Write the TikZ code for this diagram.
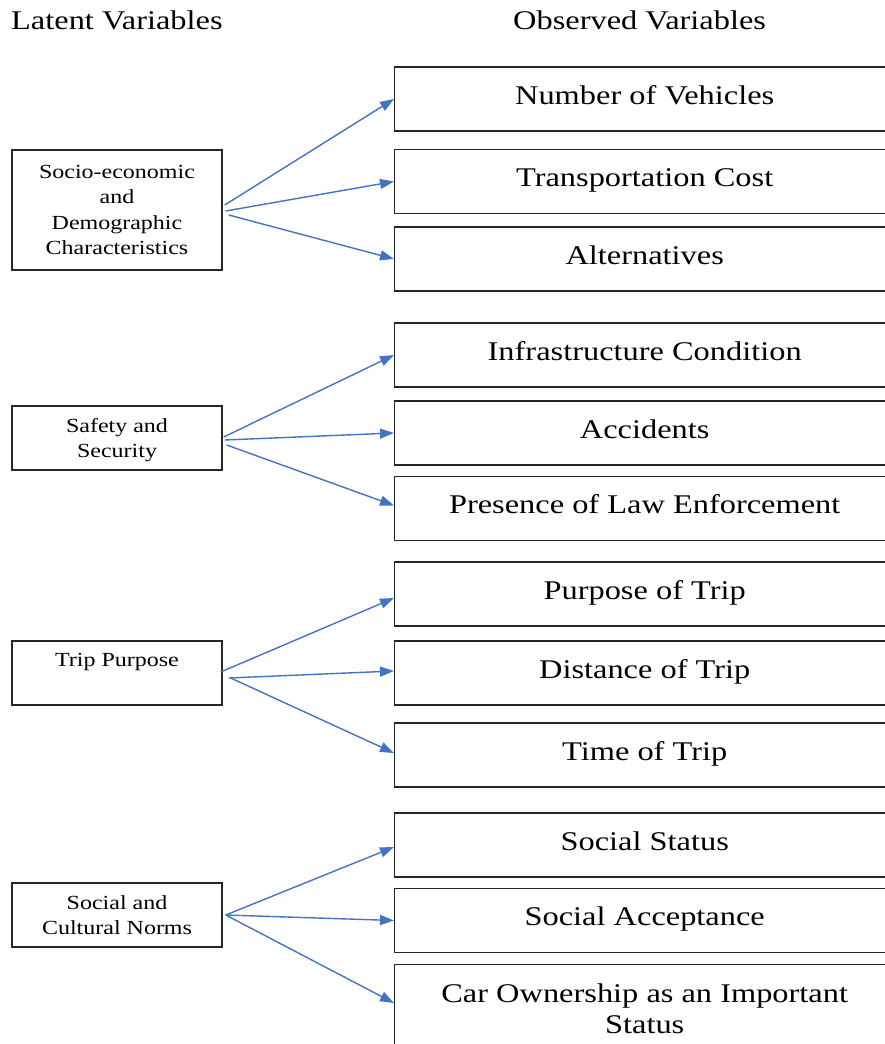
\documentclass[tikz,border=0pt]{standalone}
\usepackage{fontspec}
\setmainfont[FakeStretch=1.2]{Liberation Serif}
\usetikzlibrary{arrows.meta,calc}
\definecolor{linkblue}{HTML}{4472C4}
\definecolor{boxline}{HTML}{262626}
\begin{document}
\begin{tikzpicture}[x=1pt,y=-1pt,
  header/.style={anchor=base west,inner sep=0pt,font=\rmfamily\fontsize{27}{31}\selectfont},
  latent/.style={draw=boxline,line width=1.4pt,minimum width=210pt,inner sep=0pt,
    align=center,font=\rmfamily\fontsize{20}{25.6}\selectfont},
  observed/.style={draw=boxline,line width=1.4pt,minimum width=500pt,minimum height=64pt,
    inner sep=0pt,anchor=west,align=center,text height=19pt,text depth=9pt,
    font=\rmfamily\fontsize{27}{31}\selectfont},
  link/.style={draw=linkblue,line width=1.4pt,-{Triangle[length=14pt,width=10pt]}}]
\useasboundingbox (0,0) rectangle (885,1044);
\clip (0,0) rectangle (885,1044);

% column headings
\node[header] (hlat) at (11,29) {Latent Variables};
\node[header] (hobs) at (513,29) {Observed Variables};

% latent variables
\node[latent,minimum height=120pt] (L1) at (117,210)
  {Socio-economic\\and\\Demographic\\Characteristics};
\node[latent,minimum height=64pt,text depth=0pt] (L2) at (117,438) {Safety and\\Security};
\node[latent,minimum height=64pt] (L3) at (117,673) {Trip Purpose\\\mbox{}};
\node[latent,minimum height=64pt] (L4) at (117,915) {Social and\\Cultural Norms};

% observed variables
\node[observed] (R1)  at (394,99)    {Number of Vehicles};
\node[observed] (R2)  at (394,181.5) {Transportation Cost};
\node[observed] (R3)  at (394,259)   {Alternatives};
\node[observed] (R4)  at (394,355)   {Infrastructure Condition};
\node[observed] (R5)  at (394,433)   {Accidents};
\node[observed] (R6)  at (394,508.5) {Presence of Law Enforcement};
\node[observed] (R7)  at (394,594)   {Purpose of Trip};
\node[observed] (R8)  at (394,673)   {Distance of Trip};
\node[observed] (R9)  at (394,755)   {Time of Trip};
\node[observed] (R10) at (394,845)   {Social Status};
\node[observed] (R11) at (394,920.5) {Social Acceptance};
\node[draw=boxline,line width=1.4pt,minimum width=500pt,inner xsep=0pt,inner ysep=19.5pt,
  anchor=north west,align=center,font=\rmfamily\fontsize{27}{31}\selectfont]
  (R12) at (394,964) {Car Ownership as an Important\\Status};

% connectors
\draw[link] ($(L1.east)+(2,-5)$) -- (R1.west);
\draw[link] ($(L1.east)+(3,1)$)  -- (R2.west);
\draw[link] ($(L1.east)+(6,5)$)  -- (R3.west);

\draw[link] ($(L2.east)+(1,-1)$) -- (R4.west);
\draw[link] ($(L2.east)+(2,2)$)  -- (R5.west);
\draw[link] ($(L2.east)+(4,7)$)  -- ($(R6.west)+(0,-3)$);

\draw[link] ($(L3.east)+(-2,-1)$) -- ($(R7.west)+(0,4)$);
\draw[link] ($(L3.east)+(6,5)$)   -- ($(R8.west)+(0,-2)$);
\draw[link] ($(L3.east)+(8,5)$)   -- ($(R9.west)+(0,-2)$);

\draw[link] ($(L4.east)+(3,0)$) -- ($(R10.west)+(0,2)$);
\draw[link] ($(L4.east)+(3,0)$) -- (R11.west);
\draw[link] ($(L4.east)+(3,0)$) -- ($(R12.north west)+(0,39)$);
\end{tikzpicture}
\end{document}
